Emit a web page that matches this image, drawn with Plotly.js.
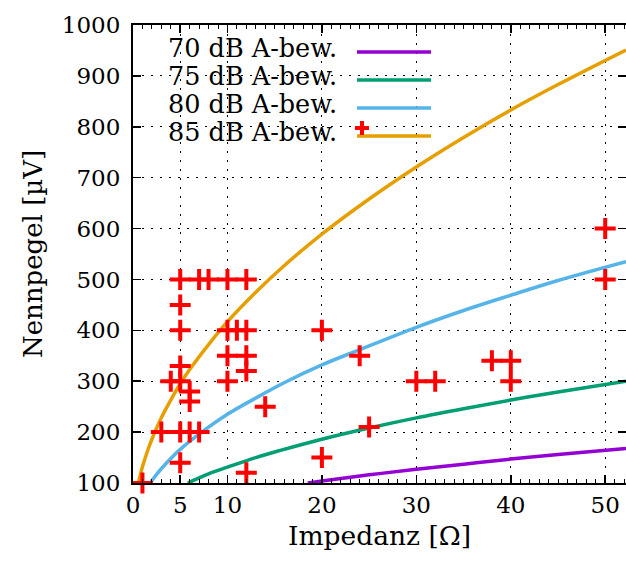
<!DOCTYPE html>
<html>
<head>
<meta charset="utf-8">
<script src="https://cdn.plot.ly/plotly-3.0.1.min.js"></script>
<style>html,body{margin:0;padding:0;background:#fff;}#chart{width:626px;height:565px;}</style>
</head>
<body>
<div id="chart"></div>
<script>
// Measured points (Impedanz [Ω], Nennpegel [µV])
const measX = [1,3,4,5,5,5,5,5,5,5,6,6,6,7,7,8,10,10,10,10,11,12,12,12,12,12,14,20,20,24,25,30,32,38,40,40,50,50];
const measY = [100,200,300,140,200,300,330,400,450,500,200,260,280,200,500,500,300,350,400,500,400,120,320,350,400,500,250,150,400,350,210,300,300,340,300,340,500,600];

// Curves
const c70x = [18.5,20,25,30,35,40,45,52.2];
const c70y = [100,104,116,127,137,147,156,168];
const c75x = [5.8,7,8,10,13,15.6,20,25,30,35,40,45,52.2];
const c75y = [100,110,118,131,150,164,186,208,228,246,263,279,300];
const c80x = [1.82,2.5,3,4,5,7,10,13,16,20,24,30,35,40,45,52.2];
const c80y = [100,117,128,148,166,196,235,267,297,332,362,406,439,469,498,535];
const c85x = [0.58,0.8,1,1.5,2,3,4,5,6,8,10,13,16,20,25,30,35,40,45,52.2];
const c85y = [100,118,132,161,186,228,263,295,323,372,417,475,527,589,658,721,779,833,883,951];

const seriesNames = ['70 dB A-bew.','75 dB A-bew.','80 dB A-bew.','85 dB A-bew.'];
const seriesColors = ['#9400d3','#009e73','#56b4e9','#e69f00'];

const xTicks = [0,5,10,20,30,40,50];
const yTicks = [100,200,300,400,500,600,700,800,900,1000];

const FONT = 'DejaVu Serif';

const curves = [[c70x,c70y],[c75x,c75y],[c80x,c80y],[c85x,c85y]];
const traces = curves.map((c,i)=>({
  x:c[0], y:c[1], type:'scatter', mode:'lines', name:seriesNames[i],
  line:{color:seriesColors[i], width:3.5, shape:'spline', smoothing:1.0},
  hoverinfo:'skip'
}));
traces.push({
  x:measX, y:measY, type:'scatter', mode:'markers', name:'',
  marker:{symbol:'cross-thin', size:15, color:'#ff0000', line:{color:'#ff0000', width:4}},
  cliponaxis:false
});

// legend (gnuplot style: text right aligned, sample to the right)
const L = 133, W = 493, B = 483, H = 458;
const px = v => (v - L)/W;
const py = v => (B - v)/H;
const rowsText = [48,76,104,132];
const rowsLine = [52,80,108,136];
const annotations = seriesNames.map((n,i)=>({
  xref:'paper', yref:'paper', x:px(339), y:py(rowsText[i]), xanchor:'right', yanchor:'middle',
  text:n, showarrow:false, font:{family:FONT, size:25.5, color:'#000'}
}));
const shapes = seriesColors.map((c,i)=>({
  type:'line', xref:'paper', yref:'paper', x0:px(357), x1:px(431), y0:py(rowsLine[i]), y1:py(rowsLine[i]),
  line:{color:c, width:3.5}
}));
shapes.push({type:'line', xref:'paper', yref:'paper', x0:px(355), x1:px(369), y0:py(128), y1:py(128), line:{color:'#ff0000', width:4}});
shapes.push({type:'line', xref:'paper', yref:'paper', x0:px(362), x1:px(362), y0:py(121), y1:py(135), line:{color:'#ff0000', width:4}});

const layout = {
  width:626, height:565,
  margin:{l:133, r:0, t:25, b:82},
  paper_bgcolor:'#fff', plot_bgcolor:'#fff',
  showlegend:false,
  font:{family:FONT, size:23, color:'#000'},
  xaxis:{
    range:[0,52.2], tickvals:xTicks, ticktext:xTicks.map(String),
    ticks:'inside', ticklen:8, tickwidth:1.5, tickcolor:'#000',
    showline:true, linecolor:'#000', linewidth:2, mirror:'allticks',
    showgrid:true, gridcolor:'#000', gridwidth:1.2, griddash:'2px,7px',
    zeroline:false,
    minor:{dtick:1, ticks:'inside', ticklen:4, tickcolor:'#000', tickwidth:1, showgrid:false},
    tickfont:{family:FONT, size:23},
    title:{text:'Impedanz [Ω]', font:{family:FONT, size:26.5}, standoff:10}
  },
  yaxis:{
    range:[100,1000], tickvals:yTicks, ticktext:yTicks.map(String),
    ticks:'inside', ticklen:8, tickwidth:1.5, tickcolor:'#000',
    showline:true, linecolor:'#000', linewidth:2, mirror:'allticks',
    showgrid:true, gridcolor:'#000', gridwidth:1.2, griddash:'2px,7px',
    zeroline:false, ticklabelstandoff:6,
    tickfont:{family:FONT, size:23},
    title:{text:'Nennpegel [µV]', font:{family:FONT, size:26}, standoff:12}
  },
  annotations:annotations,
  shapes:shapes
};

Plotly.newPlot('chart', traces, layout, {staticPlot:true, displayModeBar:false});
</script>
</body>
</html>
